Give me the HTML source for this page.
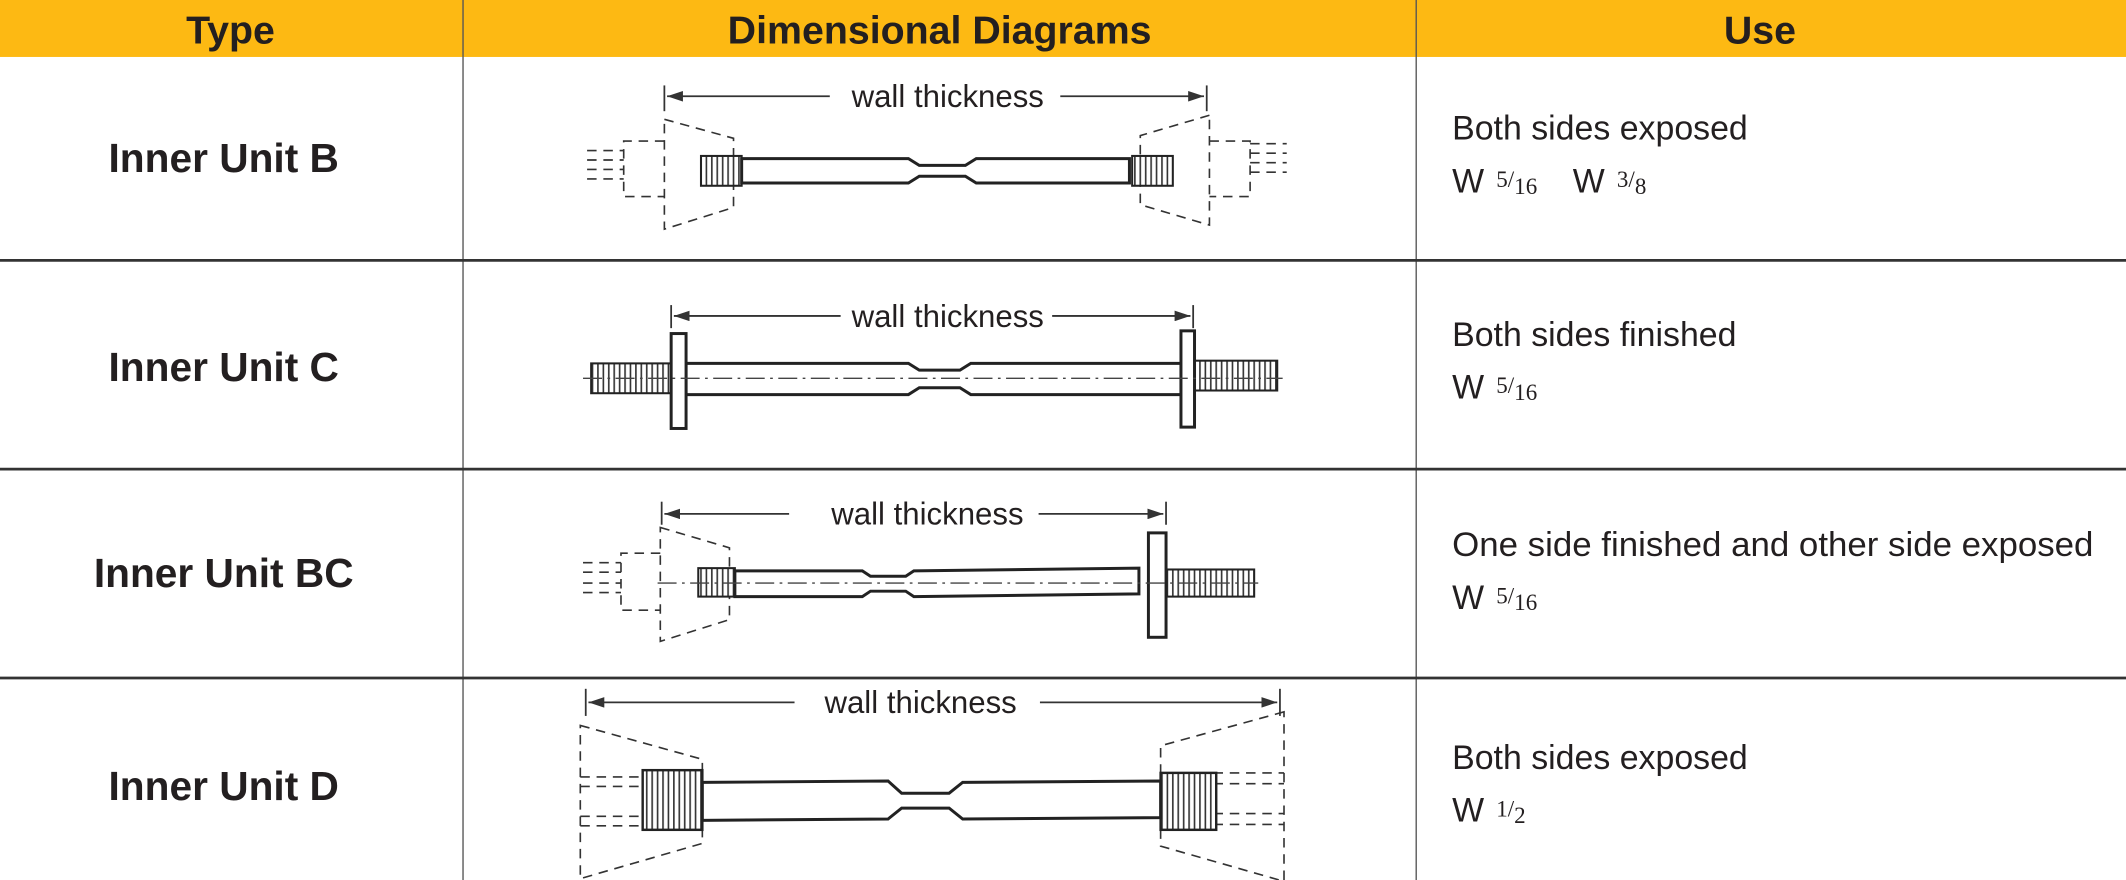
<!DOCTYPE html>
<html><head><meta charset="utf-8"><style>
html,body{margin:0;padding:0;background:#fff;}
svg{display:block;}
.h{font-family:"Liberation Sans",sans-serif;font-weight:bold;font-size:29px;fill:#231f20;text-anchor:middle;}
.t{font-family:"Liberation Sans",sans-serif;font-weight:bold;font-size:30px;fill:#231f20;text-anchor:middle;}
.u{font-family:"Liberation Sans",sans-serif;font-size:25px;fill:#231f20;}
.f{font-family:"Liberation Serif",serif;font-size:17px;fill:#231f20;}
.w{font-family:"Liberation Sans",sans-serif;font-size:23px;fill:#231f20;text-anchor:middle;}
.d{fill:none;stroke:#333;stroke-width:1.2;stroke-dasharray:7,5;}
.s{fill:#fff;stroke:#222;stroke-width:2.2;}
.a{stroke:#333;stroke-width:1.3;fill:none;}
</style></head><body>
<svg width="2126" height="880" viewBox="0 0 1568 649" preserveAspectRatio="none" xmlns="http://www.w3.org/2000/svg">
<defs>
<pattern id="th" width="4" height="10" patternUnits="userSpaceOnUse"><rect width="4" height="10" fill="#fff"/><line x1="1" y1="0" x2="1" y2="10" stroke="#333" stroke-width="1.2"/></pattern>
<marker id="ar" markerWidth="9" markerHeight="6" refX="9" refY="3" orient="auto"><path d="M0,0 L9,3 L0,6 z" fill="#333"/></marker>
</defs>
<rect x="0" y="0" width="1568" height="42" fill="#FDB913"/>
<text class="h" x="170" y="32">Type</text>
<text class="h" x="693" y="32">Dimensional Diagrams</text>
<text class="h" x="1298" y="32">Use</text>
<line x1="341.5" y1="0" x2="341.5" y2="649" stroke="#555" stroke-width="1"/>
<line x1="1044.5" y1="0" x2="1044.5" y2="649" stroke="#555" stroke-width="1"/>
<line x1="0" y1="192" x2="1568" y2="192" stroke="#333" stroke-width="2"/>
<line x1="0" y1="346" x2="1568" y2="346" stroke="#333" stroke-width="2"/>
<line x1="0" y1="500" x2="1568" y2="500" stroke="#333" stroke-width="2"/>

<text class="t" x="165" y="127">Inner Unit B</text>
<text class="t" x="165" y="281">Inner Unit C</text>
<text class="t" x="165" y="433">Inner Unit BC</text>
<text class="t" x="165" y="590">Inner Unit D</text>

<text class="u" x="1071" y="103">Both sides exposed</text>
<text class="u" x="1071" y="142">W <tspan class="f" dx="2" dy="-4">5/</tspan><tspan class="f" dy="5">16</tspan></text>
<text class="u" x="1160" y="142">W <tspan class="f" dx="2" dy="-4">3/</tspan><tspan class="f" dy="5">8</tspan></text>
<text class="u" x="1071" y="255">Both sides finished</text>
<text class="u" x="1071" y="294">W <tspan class="f" dx="2" dy="-4">5/</tspan><tspan class="f" dy="5">16</tspan></text>
<text class="u" x="1071" y="410" textLength="473" lengthAdjust="spacingAndGlyphs">One side finished and other side exposed</text>
<text class="u" x="1071" y="449">W <tspan class="f" dx="2" dy="-4">5/</tspan><tspan class="f" dy="5">16</tspan></text>
<text class="u" x="1071" y="567">Both sides exposed</text>
<text class="u" x="1071" y="606">W <tspan class="f" dx="2" dy="-4">1/</tspan><tspan class="f" dy="5">2</tspan></text>

<!-- Row B -->
<line class="a" x1="490" y1="63" x2="490" y2="82"/><line class="a" x1="890" y1="63" x2="890" y2="82"/>
<line class="a" x1="612" y1="71" x2="492" y2="71" marker-end="url(#ar)"/>
<line class="a" x1="782" y1="71" x2="888" y2="71" marker-end="url(#ar)"/>
<text class="w" x="699" y="79">wall thickness</text>
<path class="d" d="M490,88 L541,102 L541,153 L490,169 Z"/>
<path class="d" d="M490,104 L460,104 L460,145 L490,145"/>
<path class="d" d="M433,111 L460,111 M433,118 L460,118 M433,125 L460,125 M433,132 L460,132"/>
<path class="d" d="M892,85 L841,100 L841,151 L892,166 Z"/>
<path class="d" d="M892,104 L922,104 L922,145 L892,145"/>
<path class="d" d="M922,106 L949,106 M922,113 L949,113 M922,120 L949,120 M922,127 L949,127"/>
<rect x="517" y="115" width="30" height="22" fill="url(#th)" stroke="#222" stroke-width="1.5"/>
<rect x="835" y="115" width="30" height="22" fill="url(#th)" stroke="#222" stroke-width="1.5"/>
<path class="s" d="M547,117 L670,117 L678,122 L712,122 L720,117 L833,117 L833,135 L720,135 L712,130 L678,130 L670,135 L547,135 Z"/>

<!-- Row C -->
<line class="a" x1="495" y1="225" x2="495" y2="242"/><line class="a" x1="880" y1="225" x2="880" y2="242"/>
<line class="a" x1="620" y1="233" x2="497" y2="233" marker-end="url(#ar)"/>
<line class="a" x1="776" y1="233" x2="878" y2="233" marker-end="url(#ar)"/>
<text class="w" x="699" y="241">wall thickness</text>
<rect x="436" y="268" width="59" height="22" fill="url(#th)" stroke="#222" stroke-width="1.5"/>
<rect x="881" y="266" width="61" height="22" fill="url(#th)" stroke="#222" stroke-width="1.5"/>
<path class="s" d="M506,268 L670,268 L678,273 L708,273 L716,268 L871,268 L871,291 L716,291 L708,286 L678,286 L670,291 L506,291 Z"/>
<rect class="s" x="495" y="246" width="11" height="70" stroke-width="1.6"/>
<rect class="s" x="871" y="244" width="10" height="71" stroke-width="1.6"/>
<line x1="430" y1="279" x2="946" y2="279" stroke="#444" stroke-width="1" stroke-dasharray="14,4,2,4"/>

<!-- Row BC -->
<line class="a" x1="488" y1="370" x2="488" y2="387"/><line class="a" x1="860" y1="370" x2="860" y2="387"/>
<line class="a" x1="582" y1="379" x2="490" y2="379" marker-end="url(#ar)"/>
<line class="a" x1="766" y1="379" x2="858" y2="379" marker-end="url(#ar)"/>
<text class="w" x="684" y="387">wall thickness</text>
<path class="d" d="M487,389 L538,404 L538,457 L487,473 Z"/>
<path class="d" d="M487,408 L458,408 L458,450 L487,450"/>
<path class="d" d="M430,415 L458,415 M430,422 L458,422 M430,430 L458,430 M430,437 L458,437"/>
<rect x="515" y="419" width="27" height="21" fill="url(#th)" stroke="#222" stroke-width="1.5"/>
<path class="s" d="M542,421 L636,421 L642,425 L668,425 L674,421 L840,419 L840,438 L674,440 L668,436 L642,436 L636,440 L542,440 Z"/>
<rect x="860" y="420" width="65" height="20" fill="url(#th)" stroke="#222" stroke-width="1.5"/>
<rect class="s" x="847" y="393" width="13" height="77" stroke-width="1.6"/>
<line x1="485" y1="430" x2="928" y2="430" stroke="#444" stroke-width="1" stroke-dasharray="14,4,2,4"/>

<!-- Row D -->
<line class="a" x1="432" y1="508" x2="432" y2="528"/><line class="a" x1="944" y1="508" x2="944" y2="528"/>
<line class="a" x1="586" y1="518" x2="434" y2="518" marker-end="url(#ar)"/>
<line class="a" x1="767" y1="518" x2="942" y2="518" marker-end="url(#ar)"/>
<text class="w" x="679" y="526">wall thickness</text>
<path class="d" d="M428,535 L518,560 L518,622 L428,648 Z"/>
<path class="d" d="M428,573 L480,573 M428,580 L480,580 M428,602 L480,602 M428,609 L480,609"/>
<path class="d" d="M947,525 L856,550 L856,624 L947,650 Z"/>
<path class="d" d="M895,570 L947,570 M895,578 L947,578 M895,600 L947,600 M895,608 L947,608"/>
<rect x="474" y="568" width="44" height="44" fill="url(#th)" stroke="#222" stroke-width="1.8"/>
<rect x="856" y="570" width="41" height="42" fill="url(#th)" stroke="#222" stroke-width="1.8"/>
<path class="s" d="M518,577 L655,576 L665,585 L700,585 L710,577 L856,576 L856,603 L710,604 L700,596 L665,596 L655,604 L518,605 Z"/>
</svg>
</body></html>
